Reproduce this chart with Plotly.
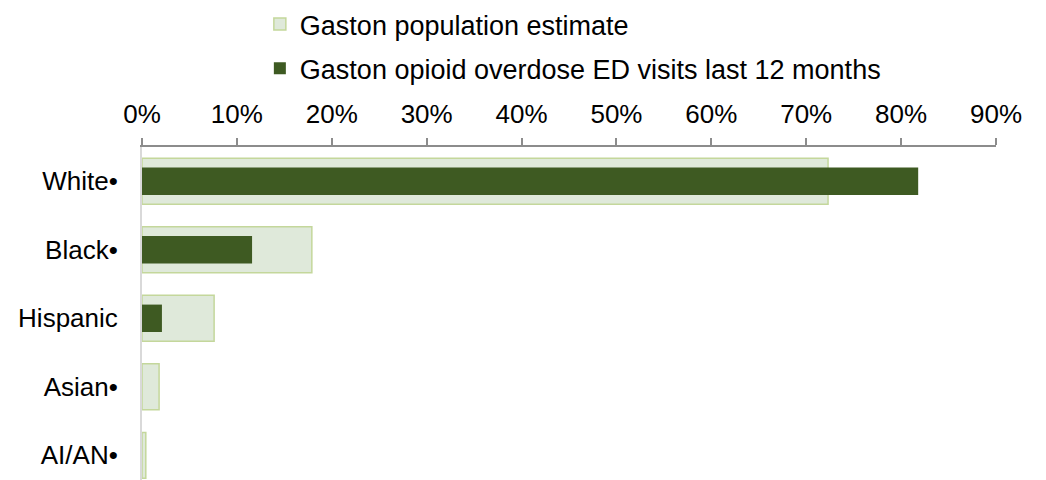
import plotly.graph_objects as go

categories = ["White•", "Black•", "Hispanic", "Asian•", "AI/AN•"]
population = [72.3, 17.9, 7.6, 1.8, 0.4]
ed_visits = [81.8, 11.6, 2.1, 0.0, 0.0]
tick_vals = [0, 10, 20, 30, 40, 50, 60, 70, 80, 90]
tick_text = [f"{v}%" for v in tick_vals]

FONT = "Liberation Sans, Arial, sans-serif"

fig = go.Figure()
fig.add_trace(go.Bar(
    y=categories, x=population, orientation="h", width=0.67,
    name="Gaston population estimate", legendgroup="a",
    marker=dict(color="#dfe9da", line=dict(color="#c4d79b", width=1.5)),
))
fig.add_trace(go.Bar(
    y=categories, x=ed_visits, orientation="h", width=0.4,
    name="Gaston opioid overdose ED visits last 12 months", legendgroup="b",
    marker=dict(color="#3e5a22", line=dict(color="#3a5320", width=0)),
))

fig.update_layout(
    width=1046, height=480,
    margin=dict(l=142, r=50, t=147, b=0),
    barmode="overlay",
    paper_bgcolor="white", plot_bgcolor="white",
    font=dict(family=FONT, size=26, color="black"),
    showlegend=True,
    legend=dict(
        x=0.138, xanchor="left", y=1.014, yref="container", yanchor="top",
        traceorder="grouped", tracegroupgap=6,
        font=dict(size=27), itemwidth=30,
    ),
    xaxis=dict(
        side="top", range=[0, 90], tickvals=tick_vals, ticktext=tick_text,
        showgrid=False, zeroline=False, showline=True, linecolor="#8c8c8c",
        linewidth=1.5, ticks="outside", ticklen=7, tickcolor="#8c8c8c",
        tickwidth=1.5, tickfont=dict(size=26), ticklabelstandoff=5,
        fixedrange=True,
    ),
    yaxis=dict(
        categoryorder="array", categoryarray=categories,
        range=[4.36, -0.5], showgrid=False, zeroline=False,
        showline=True, linecolor="#d9d9d9", linewidth=2,
        ticks="", ticklabelstandoff=17, tickfont=dict(size=26),
        fixedrange=True,
    ),
)

fig.write_html(
    "out.html",
    config={"displayModeBar": False},
    post_script="document.body.style.margin='0';",
)
